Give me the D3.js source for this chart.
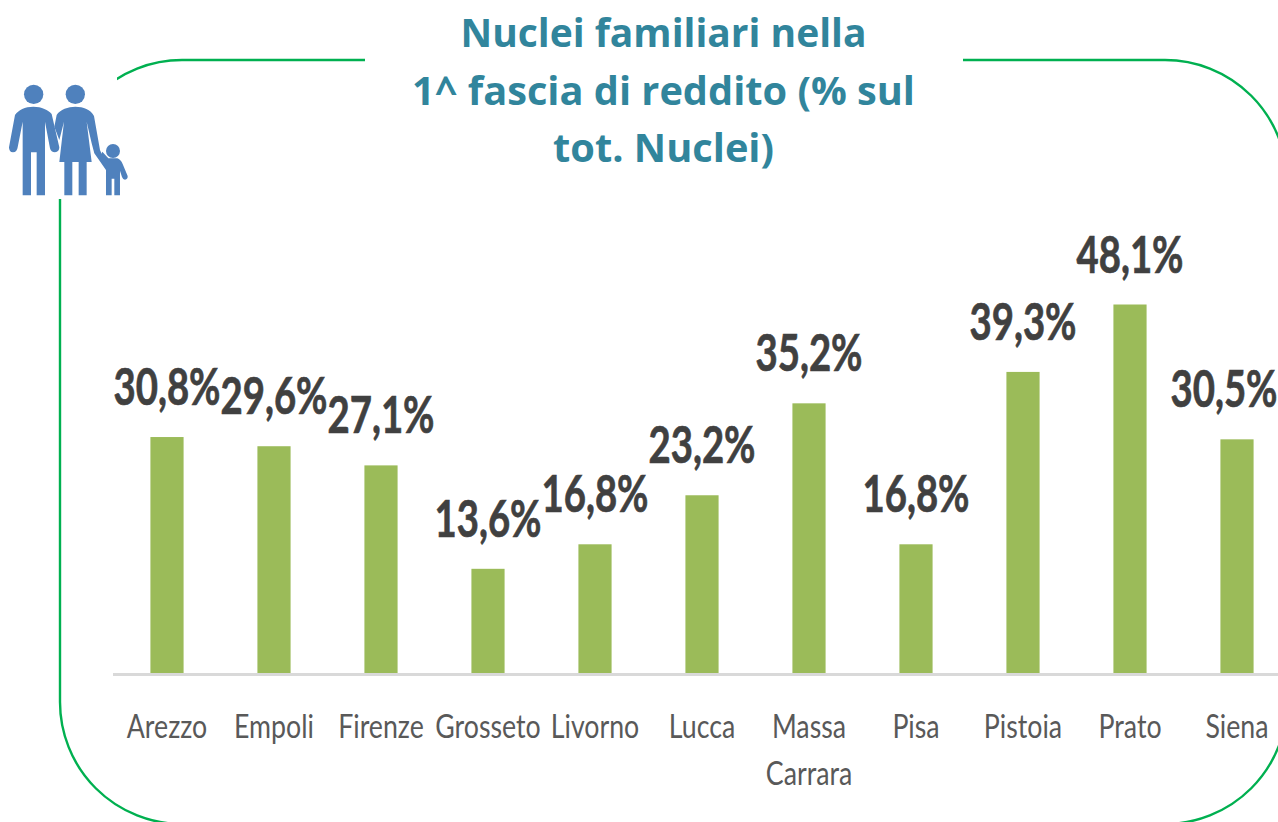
<!DOCTYPE html>
<html><head><meta charset="utf-8">
<script src="https://cdn.jsdelivr.net/npm/d3@7"></script>
<style>html,body{margin:0;padding:0;background:#fff;overflow:hidden}svg{display:block}</style>
</head><body><div id="c"></div>
<script>
const categories=["Arezzo","Empoli","Firenze","Grosseto","Livorno","Lucca","Massa Carrara","Pisa","Pistoia","Prato","Siena"];
const values=[30.8,29.6,27.1,13.6,16.8,23.2,35.2,16.8,39.3,48.1,30.5];
const titleLines=["Nuclei familiari nella","1^ fascia di reddito (% sul","tot. Nuclei)"];
const W=1278,H=822,base=673;
const svg=d3.select("#c").append("svg").attr("width",W).attr("height",H);
// frame
svg.append("rect").attr("x",60).attr("y",60).attr("width",1227).attr("height",764).attr("rx",122).attr("ry",122)
 .attr("fill","none").attr("stroke","#00b050").attr("stroke-width",2.4);
svg.append("rect").attr("x",365).attr("y",50).attr("width",598).attr("height",20).attr("fill","#fff");
svg.append("rect").attr("x",0).attr("y",40).attr("width",117).attr("height",159).attr("fill","#fff");
// scales
const x=d3.scaleBand().domain(categories).range([113.5,1290.5]).paddingInner(0.69).paddingOuter(0.345);
const y=d3.scaleLinear().domain([0,48.1]).range([base,304.5]);
// bars
svg.selectAll("rect.bar").data(values).join("rect").attr("class","bar")
 .attr("x",(d,i)=>x(categories[i])).attr("width",x.bandwidth())
 .attr("y",d=>y(d)).attr("height",d=>base-y(d)).attr("fill","#9bbb59");
// axis
const ax=svg.append("g").attr("transform",`translate(0,${base+1.5})`).call(d3.axisBottom(x).tickSize(0).tickPadding(0));
ax.select(".domain").attr("stroke","#d9d9d9").attr("stroke-width",3).attr("d",`M113,0H${W}`);
ax.selectAll(".tick text").each(function(d){
  const t=d3.select(this);t.text(null).attr("y",null).attr("dy",null);
  d.split(" ").forEach((w,i)=>t.append("tspan").attr("x",0).attr("y",63.5+i*47).text(w));
}).attr("font-family","Lato,sans-serif").attr("font-size",33).attr("fill","#595959").attr("transform","scale(0.81,1)");
// value labels
svg.selectAll("text.val").data(values).join("text").attr("class","val")
 .attr("x",(d,i)=>Math.min(x(categories[i])+x.bandwidth()/2,1224)).attr("y",d=>y(d)-32).attr("text-anchor","middle")
 .attr("font-family","Lato,sans-serif").attr("font-weight",700).attr("font-size",51).attr("fill","#404040")
 .attr("stroke","#404040").attr("stroke-width",0.7)
 .attr("textLength",107).attr("lengthAdjust","spacingAndGlyphs")
 .text(d=>d.toFixed(1).replace(".",",")+"%");
// title
const titleWidths=[406,503,221];
svg.selectAll("text.title").data(titleLines).join("text").attr("class","title")
 .attr("x",663.5).attr("y",(d,i)=>47+i*57.5).attr("text-anchor","middle")
 .attr("font-family","'Open Sans',sans-serif").attr("font-weight",700).attr("font-size",39.5).attr("fill","#31859c")
 .attr("textLength",(d,i)=>titleWidths[i]).attr("lengthAdjust","spacingAndGlyphs").text(d=>d);
// icon
const ic=svg.append("g").attr("transform","translate(0,40) scale(0.3333)").attr("fill","#4f81bd");
[[101,163,29],[226,163,29],[339,333,21]].forEach(c=>ic.append("circle").attr("cx",c[0]).attr("cy",c[1]).attr("r",c[2]));
[
"M100 200C75 200 55 210 45 225L27 322Q27 337 39 337Q51 337 53 322L68 245V466H93V337H110V466H135V245L150 325Q153 337 165 337Q178 335 178 322L155 222C145 210 125 200 100 200Z",
"M226 200C205 200 180 208 170 225L163 260L178 300L192 245L178 366H193V466H217V366H236V466H260V366H275L260 245L275 310L283 340L318 390L322 380L300 330L282 228C272 208 250 200 226 200Z",
"M325 355H352Q362 358 368 372L383 408Q384 418 375 419Q369 419 366 411L360 392V466H343V416H335V466H318V385L300 350L307 335Z"
].forEach(p=>ic.append("path").attr("d",p));
</script></body></html>
